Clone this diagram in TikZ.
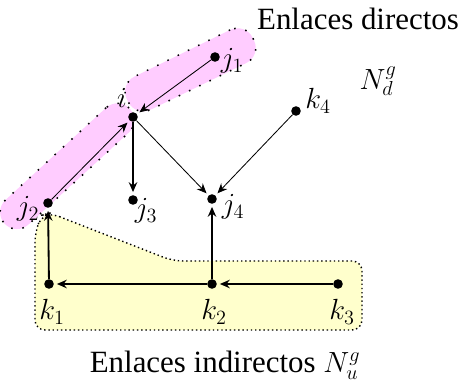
\documentclass[tikz,border=0pt]{standalone}
\usepackage{fontspec}
\setmainfont{Liberation Serif}
\usepackage{xcolor}
\usepackage{tikz}
\usetikzlibrary{positioning,arrows.meta}

\definecolor{bandpink}{RGB}{255,204,255}
\definecolor{zoneyellow}{RGB}{255,255,204}

\tikzset{
    dot/.style={circle,fill=black,inner sep=0pt,minimum size=2.4mm},
    lbl/.style={inner sep=1pt},
    band/.style={fill=bandpink,draw=black,line width=1.1pt,dash pattern=on 1.1pt off 7pt,rounded corners=0.42cm,inner sep=0pt},
    thin link/.style={->,semithick,shorten >=2pt},
    thick link/.style={->,line width=1.3pt,shorten >=2pt}
}

\begin{document}
\begin{tikzpicture}[>={Stealth[length=7pt,width=6pt]},font=\fontsize{22}{26}\selectfont]
                \useasboundingbox (0,0) rectangle (11.675,9.675);
                % zona de enlaces indirectos
                \draw[fill=zoneyellow,dotted,line width=1pt,rounded corners=0.25cm] (1.25,4.35) -- (4.325,3.15) -- (9.05,3.15) -- (9.05,1.425) -- (0.875,1.425) -- (0.875,3.875) -- (1.05,4.3) -- cycle;
                % zona de enlaces directos
                \node[band,rotate=42.5,minimum width=4.25cm,minimum height=0.84cm] (bandlow) at (1.68,5.52) {};
                \node[band,rotate=26,minimum width=3.5cm,minimum height=0.92cm] (bandup) at (4.76,7.93) {};
                % nodos
                \node[dot] (j1) at (5.375,8.25) {};
                \node[dot] (i) at (3.325,6.75) {};
                \node[dot] (k4) at (7.4,6.9) {};
                \node[dot] (j3) at (3.325,4.675) {};
                \node[dot] (j4) at (5.3,4.7) {};
                \node[dot] (j2) at (1.2,4.6) {};
                \node[dot] (k1) at (1.225,2.575) {};
                \node[dot] (k2) at (5.3,2.575) {};
                \node[dot] (k3) at (8.45,2.575) {};
                % etiquetas
                \node[lbl] (lj1) at (5.8,8.15) {$j_1$};
                \node[lbl] (li) at (3.05,7.225) {$i$};
                \node[lbl] (lk4) at (7.95,7.15) {$k_4$};
                \node[lbl] (lj3) at (3.65,4.4) {$j_3$};
                \node[lbl] (lj4) at (5.825,4.5) {$j_4$};
                \node[lbl] (lj2) at (0.7,4.45) {$j_2$};
                \node[lbl] (lk1) at (1.3,1.875) {$k_1$};
                \node[lbl] (lk2) at (5.35,1.875) {$k_2$};
                \node[lbl] (lk3) at (8.55,1.875) {$k_3$};
                % enlaces
                \draw[thin link] (j1) -- (i);
                \draw[thin link] (j2) -- (i);
                \draw[thin link] (i) -- (j4);
                \draw[thin link] (k4) -- (j4);
                \draw[thick link] (i) -- (j3);
                \draw[thick link] (k2) -- (j4);
                \draw[thick link] (k1) -- (j2);
                \draw[thick link] (k2) -- (k1);
                \draw[thick link] (k3) -- (k2);
                % textos
                \node (tdir) at (8.95,9.2) {Enlaces directos};
                \node (tnd) at (9.45,7.65) {$N_d^g$};
                \node (tind) at (5.625,0.55) {Enlaces indirectos $N_u^g$};
            \end{tikzpicture}
\end{document}
